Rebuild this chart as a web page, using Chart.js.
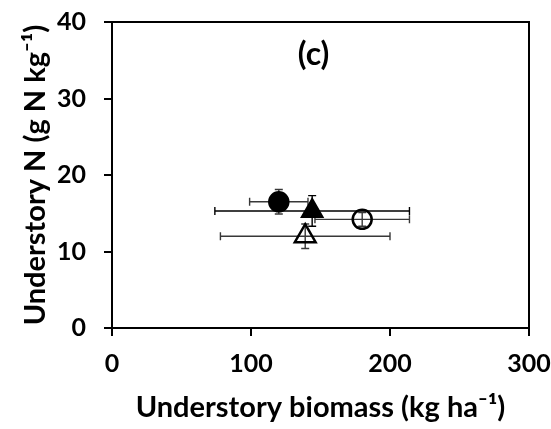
<!DOCTYPE html>
<html>
<head>
<meta charset="utf-8">
<script src="https://cdn.jsdelivr.net/npm/chart.js@4"></script>
<style>
html,body{margin:0;padding:0;background:#fff;}
#wrap{width:551px;height:429px;}
</style>
</head>
<body>
<div id="wrap"><canvas id="c" width="551" height="429"></canvas></div>
<script>
// Data
const treatments = ['Filled circle', 'Filled triangle', 'Open circle', 'Open triangle'];
const biomass = [120, 144, 180, 139];        // x, kg ha-1
const biomassErr = [21, 70, 34, 61];
const understoryN = [16.5, 15.3, 14.2, 12.0]; // y, g N kg-1
const understoryNErr = [1.6, 2.0, 0.9, 1.6];
const xTicks = [0, 100, 200, 300];
const yTicks = [0, 10, 20, 30, 40];

const styles = [
  {pointStyle: 'circle', radius: 9.5, bg: '#000', border: '#000'},
  {pointStyle: 'triangle', radius: 11.5, bg: '#000', border: '#000'},
  {pointStyle: 'circle', radius: 9.5, bg: 'rgba(0,0,0,0)', border: '#000'},
  {pointStyle: 'triangle', radius: 12, bg: 'rgba(0,0,0,0)', border: '#000'}
];
const errColors = ['#383838', '#000000', '#383838', '#383838'];
const FONT = 'Lato, "Open Sans", sans-serif';

const datasets = treatments.map((t, i) => ({
  label: t,
  data: [{x: biomass[i], y: understoryN[i], xe: biomassErr[i], ye: understoryNErr[i]}],
  pointStyle: styles[i].pointStyle,
  pointRadius: styles[i].radius,
  pointHoverRadius: styles[i].radius,
  backgroundColor: styles[i].bg,
  borderColor: styles[i].border,
  pointBorderWidth: 2.5,
  errColor: errColors[i]
}));

const errorBars = {
  id: 'errorBars',
  beforeDatasetsDraw(chart) {
    const ctx = chart.ctx, xs = chart.scales.x, ys = chart.scales.y;
    const cap = 4;
    chart.data.datasets.forEach(ds => {
      ds.data.forEach(d => {
        const px = xs.getPixelForValue(d.x), py = ys.getPixelForValue(d.y);
        const x1 = xs.getPixelForValue(d.x - d.xe), x2 = xs.getPixelForValue(d.x + d.xe);
        const y1 = ys.getPixelForValue(d.y + d.ye), y2 = ys.getPixelForValue(d.y - d.ye);
        ctx.save();
        ctx.strokeStyle = ds.errColor;
        ctx.lineWidth = 1.4;
        ctx.beginPath();
        ctx.moveTo(x1, py); ctx.lineTo(x2, py);
        ctx.moveTo(x1, py - cap); ctx.lineTo(x1, py + cap);
        ctx.moveTo(x2, py - cap); ctx.lineTo(x2, py + cap);
        ctx.moveTo(px, y1); ctx.lineTo(px, y2);
        ctx.moveTo(px - cap, y1); ctx.lineTo(px + cap, y1);
        ctx.moveTo(px - cap, y2); ctx.lineTo(px + cap, y2);
        ctx.stroke();
        ctx.restore();
      });
    });
  },
  afterDraw(chart) {
    const ctx = chart.ctx, a = chart.chartArea;
    ctx.save();
    ctx.strokeStyle = '#000';
    ctx.lineWidth = 2;
    ctx.beginPath();
    ctx.moveTo(a.left, a.top); ctx.lineTo(a.right, a.top); ctx.lineTo(a.right, a.bottom);
    ctx.stroke();
    ctx.fillStyle = '#000';
    ctx.font = 'bold 32px ' + FONT;
    ctx.textAlign = 'center';
    ctx.textBaseline = 'middle';
    ctx.fillText('(c)', chart.scales.x.getPixelForValue(145), chart.scales.y.getPixelForValue(35.7));
    ctx.restore();
  }
};

new Chart(document.getElementById('c'), {
  type: 'scatter',
  data: {datasets},
  options: {
    responsive: false,
    animation: false,
    devicePixelRatio: 1,
    layout: {padding: {top: 22, right: 22, left: 0, bottom: 0}},
    plugins: {legend: {display: false}, tooltip: {enabled: false}},
    scales: {
      x: {
        type: 'linear', min: 0, max: 300,
        afterBuildTicks: s => { s.ticks = xTicks.map(v => ({value: v})); },
        afterFit: s => { s.height = 101; s.paddingLeft = 0; s.paddingRight = 0; },
        grid: {drawOnChartArea: false, drawTicks: true, tickLength: 8, color: '#000', lineWidth: 2},
        border: {display: true, color: '#000', width: 2},
        ticks: {color: '#000', font: {family: FONT, size: 25, weight: 'bold'}, padding: 13, maxRotation: 0},
        title: {display: true, text: 'Understory biomass (kg ha⁻¹)', color: '#000',
                font: {family: FONT, size: 29, weight: 'bold'}, padding: {top: 4, bottom: 4}}
      },
      y: {
        type: 'linear', min: 0, max: 40,
        afterBuildTicks: s => { s.ticks = yTicks.map(v => ({value: v})); },
        afterFit: s => { s.width = 112; s.paddingTop = 0; s.paddingBottom = 0; },
        grid: {drawOnChartArea: false, drawTicks: true, tickLength: 8, color: '#000', lineWidth: 2},
        border: {display: true, color: '#000', width: 2},
        ticks: {color: '#000', font: {family: FONT, size: 25, weight: 'bold'}, padding: 18},
        title: {display: true, text: 'Understory N (g N kg⁻¹)', color: '#000',
                font: {family: FONT, size: 29, weight: 'bold'}, padding: {top: 18, bottom: 4}}
      }
    }
  },
  plugins: [errorBars]
});
</script>
</body>
</html>
